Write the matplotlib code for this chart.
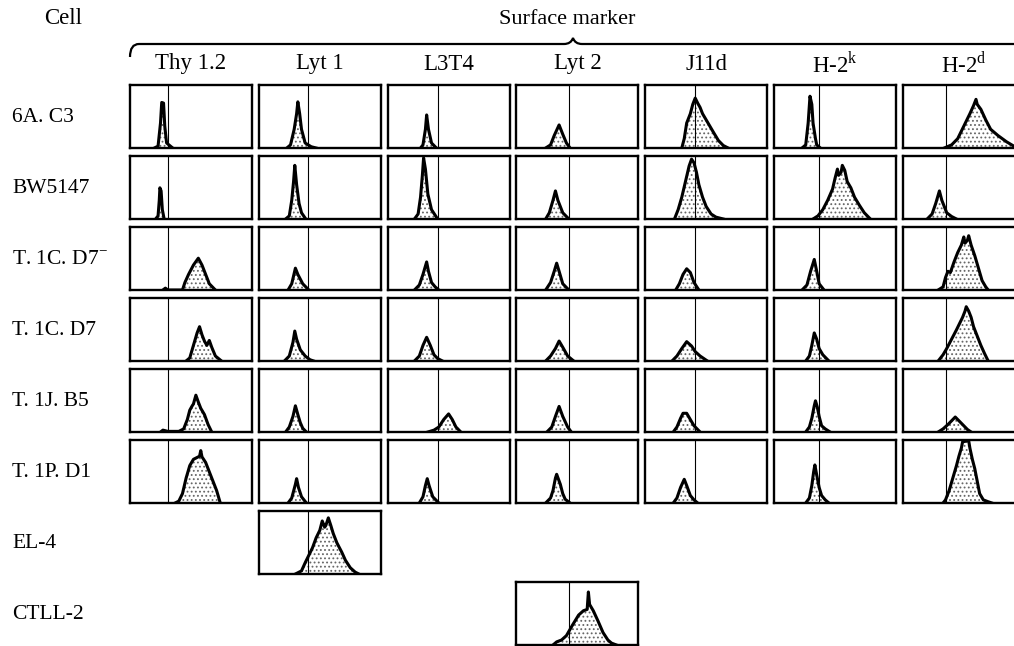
import matplotlib.pyplot as plt
from matplotlib.path import Path
from matplotlib.patches import PathPatch

plt.rcParams["font.family"] = ["Liberation Serif", "DejaVu Serif"]
plt.rcParams["mathtext.fontset"] = "custom"
plt.rcParams["mathtext.rm"] = "Liberation Serif"
plt.rcParams["hatch.linewidth"] = 0.8

# %%
markers = ["Thy 1.2", "Lyt 1", "L3T4", "Lyt 2", "J11d",
           r"H-2$^{\mathrm{k}}$", r"H-2$^{\mathrm{d}}$"]
cells = ["6A. C3", "BW5147", r"T. 1C. D7$^{-}$", "T. 1C. D7", "T. 1J. B5",
         "T. 1P. D1", "EL-4", "CTLL-2"]

# positive/negative cut-off channel for each marker (0-100 scale)
cutoff = [31, 40, 41, 43, 41, 37, 35]

# fluorescence profiles, (channel, relative cell number)
a6_c3 = [
    [(20, 0), (23, 3), (25, 40), (26, 73), (27.5, 72), (28.5, 35), (30, 8), (35, 0)],
    [(23, 0), (26, 5), (29, 30), (31, 55), (32, 74), (33.5, 55), (35, 30), (38, 8), (43, 2), (47, 0)],
    [(27, 0), (29, 5), (31, 30), (32, 53), (33.5, 30), (36, 8), (40, 0)],
    [(24, 0), (28, 5), (31, 20), (35, 37), (38, 22), (41, 8), (44, 0)],
    [(30, 0), (32, 15), (34, 40), (37, 55), (39, 70), (41, 80), (43, 72), (45, 65), (47, 55),
     (50, 45), (53, 35), (56, 25), (60, 12), (64, 4), (68, 0)],
    [(23, 0), (26, 5), (28, 40), (29.5, 83), (31, 70), (32, 40), (34, 15), (35, 5), (38, 0)],
    [(34, 0), (40, 5), (45, 15), (50, 35), (55, 55), (58, 68), (60, 78), (61, 70), (64, 62),
     (68, 45), (72, 30), (78, 20), (85, 10), (91, 3), (96, 0)],
]
bw5147 = [
    [(21, 0), (23, 5), (24, 30), (24.5, 50), (25.5, 45), (26.5, 15), (28, 0)],
    [(22, 0), (25, 5), (27, 30), (28.5, 60), (29.5, 86), (31, 55), (33, 25), (35, 10), (38.5, 0)],
    [(22, 0), (25, 8), (27, 35), (28.5, 70), (29.5, 98), (31, 80), (33, 40), (36, 15), (41, 0)],
    [(24, 0), (27, 10), (30, 30), (32, 45), (34, 30), (38, 10), (43, 0)],
    [(24, 0), (27, 15), (30, 35), (33, 60), (36, 85), (38, 96), (40, 90), (42, 75), (44, 55),
     (47, 35), (50, 20), (54, 8), (58, 3), (64, 0)],
    [(32, 0), (36, 5), (40, 15), (44, 30), (48, 48), (50, 65), (52, 80), (53, 70), (55, 75),
     (56, 86), (58, 78), (60, 60), (63, 50), (66, 35), (70, 22), (74, 10), (79, 0)],
    [(20, 0), (24, 8), (27, 25), (30, 45), (32, 30), (36, 10), (40, 4), (44, 0)],
]
t1c_d7_neg = [
    [(27, 0), (29, 3), (31, 0), (43, 0), (45, 12), (48, 25), (52, 40), (56, 51), (59, 40),
     (62, 25), (65, 10), (70, 0)],
    [(24, 0), (27, 10), (30, 35), (32, 25), (36, 10), (41, 0)],
    [(22, 0), (26, 8), (29, 25), (32, 45), (33.5, 30), (36, 12), (39, 5), (42, 0)],
    [(24, 0), (28, 12), (31, 30), (33, 43), (35, 30), (38, 10), (43, 0)],
    [(25, 0), (28, 10), (31, 25), (34, 34), (37, 28), (40, 12), (44, 0)],
    [(23, 0), (27, 8), (30, 30), (33, 49), (35, 30), (37, 10), (41, 0)],
    [(29, 0), (33, 5), (35, 20), (37, 30), (39, 28), (42, 45), (45, 60), (48, 72), (50, 85),
     (51, 75), (53, 80), (54, 87), (56, 72), (59, 55), (62, 35), (65, 15), (68, 5), (70, 0)],
]
t1c_d7 = [
    [(46, 0), (49, 5), (52, 25), (55, 45), (57, 55), (59, 42), (61, 32), (63, 25), (65, 33),
     (67, 22), (70, 8), (75, 0)],
    [(21, 0), (25, 8), (28, 30), (29.5, 48), (31, 35), (34, 18), (38, 8), (42, 2), (45, 0)],
    [(22, 0), (26, 8), (29, 25), (32, 38), (35, 25), (38, 10), (41, 4), (45, 0)],
    [(24, 0), (28, 8), (32, 20), (35, 32), (38, 22), (42, 8), (47, 0)],
    [(22, 0), (26, 8), (30, 20), (34, 31), (38, 24), (41, 15), (45, 8), (51, 0)],
    [(26, 0), (29, 8), (31, 25), (33, 45), (35, 35), (37, 20), (40, 10), (45, 0)],
    [(29, 0), (33, 10), (36, 20), (40, 35), (44, 50), (47, 62), (49, 70), (51, 80), (52, 87),
     (54, 80), (56, 70), (58, 55), (61, 40), (64, 25), (67, 12), (70, 0)],
]
t1j_b5 = [
    [(25, 0), (27, 3), (29, 2), (31, 1), (40, 1), (44, 5), (47, 20), (49, 35), (51, 42),
     (52, 45), (54, 59), (56, 48), (58, 38), (61, 28), (64, 12), (67, 0)],
    [(22, 0), (25, 8), (28, 25), (30, 42), (32, 28), (34, 15), (36, 6), (39, 0)],
    [(33, 0), (38, 3), (42, 8), (46, 20), (50, 29), (53, 20), (56, 8), (60, 0)],
    [(25, 0), (29, 8), (32, 25), (35, 41), (38, 25), (42, 8), (45, 0)],
    [(23, 0), (26, 8), (29, 22), (31, 30), (34, 30), (37, 20), (40, 10), (45, 0)],
    [(26, 0), (29, 8), (31, 22), (33, 42), (34, 50), (35.5, 40), (37, 25), (39, 10), (42, 5), (46, 0)],
    [(29, 0), (33, 5), (37, 12), (40, 18), (43, 24), (46, 18), (50, 10), (53, 4), (56, 0)],
]
t1p_d1 = [
    [(37, 0), (40, 3), (43, 15), (46, 40), (49, 60), (52, 70), (55, 73), (57, 75), (58, 84),
     (59, 74), (62, 65), (65, 50), (68, 35), (71, 20), (74, 0)],
    [(24, 0), (27, 8), (30, 30), (31, 39), (32.5, 25), (35, 10), (39, 0)],
    [(26, 0), (29, 10), (31, 28), (32.5, 39), (34, 28), (37, 10), (42, 0)],
    [(24, 0), (28, 8), (30, 20), (32, 40), (33, 46), (34.5, 38), (36, 30), (38, 15), (40, 6), (44, 0)],
    [(23, 0), (26, 8), (29, 25), (32, 38), (34, 28), (37, 12), (40, 5), (43, 0)],
    [(26, 0), (29, 8), (31, 28), (32.5, 50), (33.5, 61), (35, 45), (37, 25), (39, 12), (42, 5), (45, 0)],
    [(33, 0), (35, 5), (38, 20), (41, 40), (44, 60), (46, 75), (48, 88), (49, 98), (54, 100),
     (55, 88), (57, 70), (59, 55), (61, 35), (63, 15), (66, 5), (70, 2), (73, 0)],
]
# EL-4 was only stained for Lyt 1, CTLL-2 only for Lyt 2
el4_lyt1 = [(30, 0), (33, 3), (35, 5), (38, 18), (41, 30), (44, 42), (47, 58), (50, 70), (52, 85),
            (54, 75), (55, 78), (57, 90), (59, 78), (61, 65), (64, 50), (68, 35), (71, 22),
            (75, 10), (79, 3), (82, 0)]
ctll2_lyt2 = [(30, 0), (33, 5), (37, 8), (41, 15), (46, 32), (51, 48), (55, 55), (58, 57),
              (59, 85), (60, 65), (63, 55), (67, 38), (71, 20), (75, 8), (78, 3), (82, 0)]

rows = [a6_c3, bw5147, t1c_d7_neg, t1c_d7, t1j_b5, t1p_d1,
        [None, el4_lyt1, None, None, None, None, None],
        [None, None, None, ctll2_lyt2, None, None, None]]

# %%
W, H = 1014, 646
fig = plt.figure(figsize=(W / 100, H / 100), dpi=100)

over = fig.add_axes([0, 0, 1, 1])
over.set_xlim(0, W)
over.set_ylim(H, 0)
over.axis("off")

col_x0, col_dx, pw = 130, 128.8, 122
row_y0, row_dy, ph = 85, 71, 63

over.text(63, 19, "Cell", ha="center", va="center", fontsize=16.5)
over.text(567, 20, "Surface marker", ha="center", va="center", fontsize=16)

verts = [(130, 57), (130, 44), (139, 44), (564, 44), (571, 44), (573, 38),
         (575, 44), (582, 44), (1030, 44)]
codes = [Path.MOVETO, Path.CURVE3, Path.CURVE3, Path.LINETO, Path.CURVE3, Path.CURVE3,
         Path.CURVE3, Path.CURVE3, Path.LINETO]
over.add_patch(PathPatch(Path(verts, codes), fill=False, lw=1.6, color="black"))

for j, m in enumerate(markers):
    over.text(col_x0 + j * col_dx + pw / 2, 64, m, ha="center", va="center", fontsize=16.5)

for i, (cell, profiles) in enumerate(zip(cells, rows)):
    top = row_y0 + i * row_dy
    over.text(12, top + ph / 2 + 1, cell, ha="left", va="center", fontsize=15.5)
    for j, prof in enumerate(profiles):
        if prof is None:
            continue
        left = col_x0 + j * col_dx
        ax = fig.add_axes([left / W, 1 - (top + ph) / H, pw / W, ph / H])
        x = [p[0] for p in prof]
        y = [p[1] for p in prof]
        ax.fill_between(x, y, facecolor="white", edgecolor="0.4", hatch="....", linewidth=0)
        ax.plot(x, y, color="black", lw=2.2, solid_joinstyle="round")
        ax.axvline(cutoff[j], color="black", lw=0.8)
        ax.set_xlim(0, 100)
        ax.set_ylim(0, 101)
        ax.set_xticks([])
        ax.set_yticks([])
        for s in ax.spines.values():
            s.set_linewidth(1.7)

fig.savefig("out.png", dpi=100)
